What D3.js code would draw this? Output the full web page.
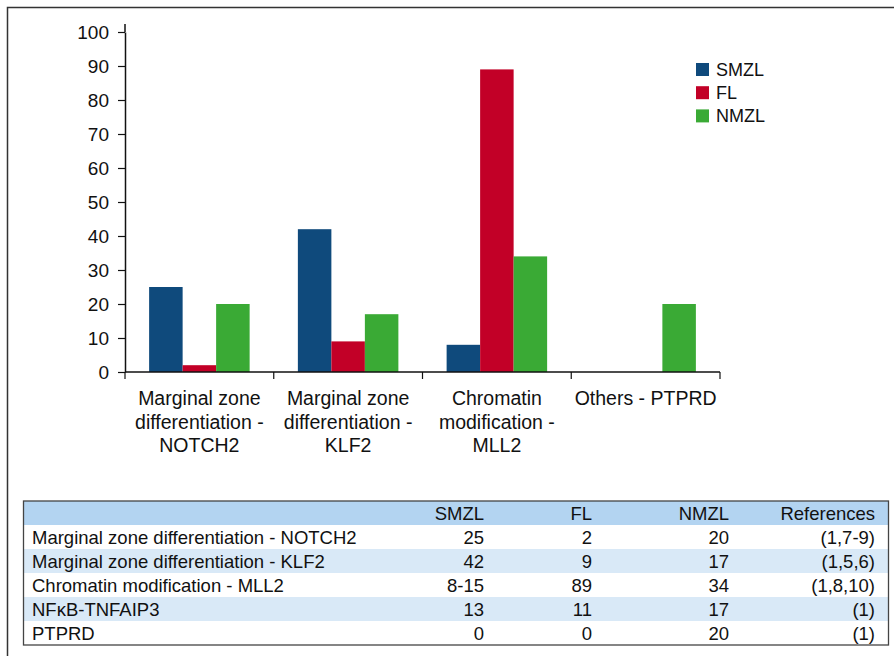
<!DOCTYPE html>
<html>
<head>
<meta charset="utf-8">
<script src="https://cdn.jsdelivr.net/npm/d3@7"></script>
<style>
  body { margin: 0; background: #fff; }
  text { font-family: "Liberation Sans", Arial, Helvetica, sans-serif; fill: #111; }
</style>
</head>
<body>
<svg id="chart" width="894" height="656"></svg>
<script>
// chart data
const categories = [
    ["Marginal zone", "differentiation -", "NOTCH2"],
    ["Marginal zone", "differentiation -", "KLF2"],
    ["Chromatin", "modification -", "MLL2"],
    ["Others - PTPRD"]
];
const series = ["SMZL", "FL", "NMZL"];
const smzl = [25, 42, 8, 0];
const fl = [2, 9, 89, 0];
const nmzl = [20, 17, 34, 20];
const yTicks = [0, 10, 20, 30, 40, 50, 60, 70, 80, 90, 100];
const colors = ["#0f4a7c", "#c20027", "#3aaa35"];

// table data
const tableHeader = ["", "SMZL", "FL", "NMZL", "References"];
const tableLabels = [
    "Marginal zone differentiation - NOTCH2",
    "Marginal zone differentiation - KLF2",
    "Chromatin modification - MLL2",
    "NF\u03baB-TNFAIP3",
    "PTPRD"
];
const tableSmzl = ["25", "42", "8-15", "13", "0"];
const tableFl = ["2", "9", "89", "11", "0"];
const tableNmzl = ["20", "17", "34", "17", "20"];
const tableRefs = ["(1,7-9)", "(1,5,6)", "(1,8,10)", "(1)", "(1)"];

const svg = d3.select("#chart");

// outer frame (runs off the right and bottom of the picture)
svg.append("rect")
    .attr("x", 7.5).attr("y", 7.5)
    .attr("width", 1000).attr("height", 1000)
    .attr("fill", "none")
    .attr("stroke", "#333")
    .attr("stroke-width", 1.5);

const plot = {left: 125, right: 720, top: 32, bottom: 372};
const values = [smzl, fl, nmzl];
const catIdx = d3.range(categories.length);

const x0 = d3.scaleBand().domain(catIdx).range([plot.left, plot.right]).paddingInner(0).paddingOuter(0);
const x1 = d3.scaleBand().domain(series).range([0, x0.bandwidth()]).paddingInner(0).paddingOuter(0.72);
const y = d3.scaleLinear().domain([0, 100]).range([plot.bottom, plot.top]);

// bars
const groups = svg.append("g").selectAll("g")
    .data(catIdx)
    .join("g")
    .attr("transform", d => "translate(" + x0(d) + ",0)");

groups.selectAll("rect")
    .data(c => series.map((s, i) => ({key: s, value: values[i][c], color: colors[i]})))
    .join("rect")
    .attr("x", d => x1(d.key))
    .attr("y", d => y(d.value))
    .attr("width", x1.bandwidth())
    .attr("height", d => y(0) - y(d.value))
    .attr("fill", d => d.color);

// y axis
const yAxis = svg.append("g")
    .attr("transform", "translate(" + plot.left + ",0)")
    .call(d3.axisLeft(y).tickValues(yTicks).tickSize(7).tickSizeOuter(0).tickPadding(9));
yAxis.select(".domain").attr("stroke", "#111").attr("stroke-width", 1.5);
yAxis.selectAll(".tick line").attr("stroke", "#111").attr("stroke-width", 1.2);
yAxis.selectAll(".tick text")
    .style("font-size", "19px")
    .style("font-family", "'Liberation Sans', Arial, sans-serif")
    .attr("fill", "#111");
yAxis.append("line")
    .attr("x1", 0).attr("x2", 0)
    .attr("y1", y(100)).attr("y2", y(100) - 8)
    .attr("stroke", "#111").attr("stroke-width", 1.5);

// x axis with ticks on the band boundaries
const xAxis = svg.append("g");
xAxis.append("line")
    .attr("x1", plot.left).attr("x2", plot.right)
    .attr("y1", y(0)).attr("y2", y(0))
    .attr("stroke", "#111").attr("stroke-width", 1.5);
const boundaries = catIdx.map(d => x0(d)).concat([x0(catIdx[catIdx.length - 1]) + x0.bandwidth()]);
xAxis.selectAll(".xtick")
    .data(boundaries)
    .join("line")
    .attr("class", "xtick")
    .attr("x1", d => d).attr("x2", d => d)
    .attr("y1", y(0)).attr("y2", y(0) + 7)
    .attr("stroke", "#111").attr("stroke-width", 1.2);

const xLabels = xAxis.selectAll(".xlabel")
    .data(catIdx)
    .join("text")
    .attr("class", "xlabel")
    .attr("text-anchor", "middle")
    .style("font-size", "19.5px");
xLabels.selectAll("tspan")
    .data(c => categories[c].map(t => ({c: c, t: t})))
    .join("tspan")
    .attr("x", d => x0(d.c) + x0.bandwidth() / 2)
    .attr("y", (d, i) => 405 + i * 23.5)
    .text(d => d.t);

// legend
const legend = svg.append("g").attr("transform", "translate(696,63)");
const legendItems = legend.selectAll("g")
    .data(series)
    .join("g")
    .attr("transform", (d, i) => "translate(0," + (i * 23.2) + ")");
legendItems.append("rect")
    .attr("width", 13).attr("height", 13)
    .attr("fill", (d, i) => colors[i]);
legendItems.append("text")
    .attr("x", 20).attr("y", 13)
    .style("font-size", "18px")
    .text(d => d);

// table
const table = {left: 23.5, right: 888.5, top: 501, rowH: 24};
const colRight = [null, 484, 592, 729, 875];
const tableRows = tableLabels.map((l, i) => [l, tableSmzl[i], tableFl[i], tableNmzl[i], tableRefs[i]]);
const allRows = [tableHeader].concat(tableRows);
const rowFill = ["#b3d4f1", "#ffffff", "#d9e9f7", "#ffffff", "#d9e9f7", "#ffffff"];

const tg = svg.append("g");
const rows = tg.selectAll("g")
    .data(allRows)
    .join("g")
    .attr("transform", (d, i) => "translate(0," + (table.top + i * table.rowH) + ")");
rows.append("rect")
    .attr("x", table.left).attr("width", table.right - table.left)
    .attr("height", table.rowH)
    .attr("fill", (d, i) => rowFill[i]);
rows.selectAll("text")
    .data(d => d)
    .join("text")
    .attr("x", (d, i) => i === 0 ? 32 : colRight[i])
    .attr("y", 18.5)
    .attr("text-anchor", (d, i) => i === 0 ? "start" : "end")
    .style("font-size", "18.5px")
    .text(d => d);
tg.append("rect")
    .attr("x", table.left).attr("y", table.top)
    .attr("width", table.right - table.left)
    .attr("height", table.rowH * allRows.length)
    .attr("fill", "none")
    .attr("stroke", "#444")
    .attr("stroke-width", 1.3);
</script>
</body>
</html>
